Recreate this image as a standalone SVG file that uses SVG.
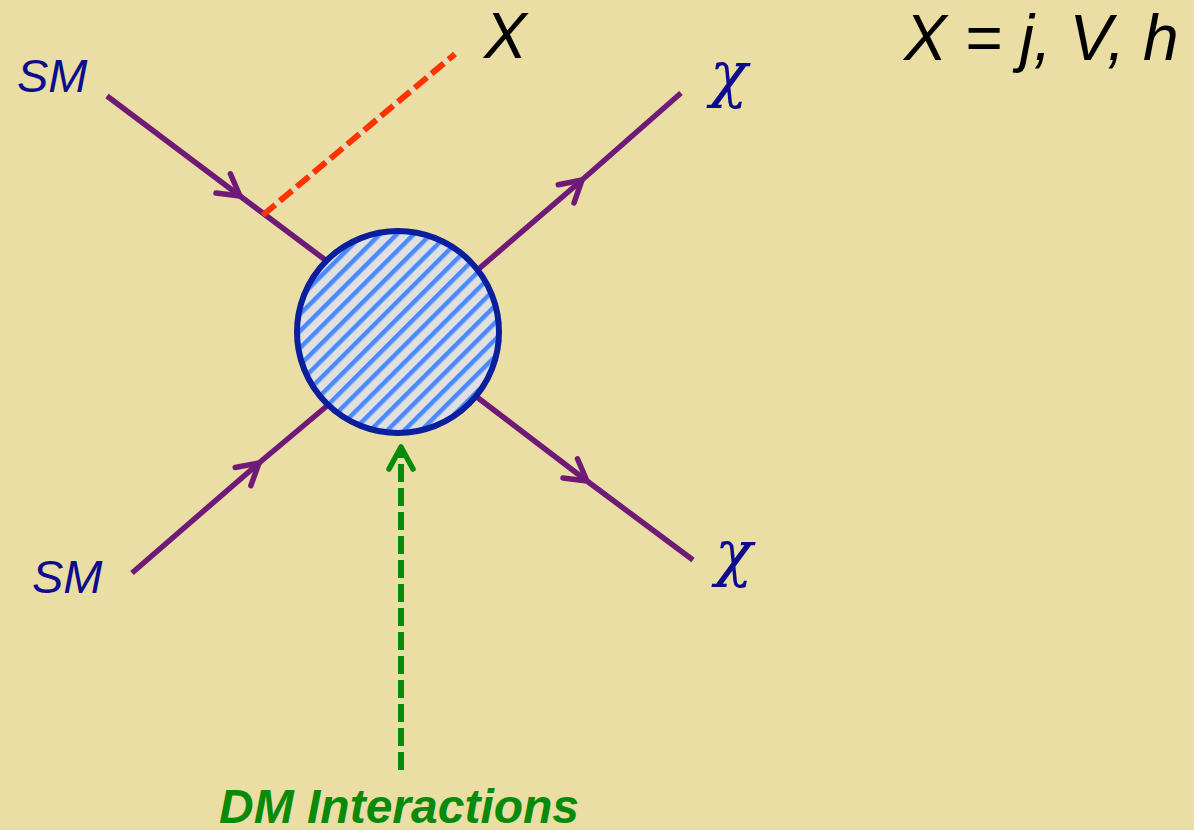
<svg xmlns="http://www.w3.org/2000/svg" width="1194" height="830" viewBox="0 0 1194 830">
<defs>
<style>
.fermion{fill:none;stroke:#701A78;stroke-width:5.5;stroke-linecap:butt;marker-mid:url(#chev)}
.lbl{font-family:"Liberation Sans",Arial,sans-serif;font-style:italic}
.chi{font-family:"DejaVu Serif","Liberation Serif",serif;font-style:italic;fill:#0C0C8C}
</style>
<marker id="chev" markerUnits="userSpaceOnUse" viewBox="-26 -16 30 32" markerWidth="30" markerHeight="32" refX="0" refY="0" orient="auto" overflow="visible">
<path d="M-21,-12 L0,0 L-21,12" fill="none" stroke="#701A78" stroke-width="5.5" stroke-linecap="round" stroke-linejoin="round"/>
</marker>
<marker id="gchev" markerUnits="userSpaceOnUse" viewBox="-26 -16 30 32" markerWidth="30" markerHeight="32" refX="0" refY="0" orient="auto" overflow="visible">
<path d="M-22,-12 L0,0 L-22,12" fill="none" stroke="#0A8A0A" stroke-width="5.5" stroke-linecap="round" stroke-linejoin="round"/>
</marker>
<pattern id="hatch" patternUnits="userSpaceOnUse" width="12" height="12" patternTransform="rotate(-45)">
<rect width="12" height="12" fill="#E0E0E0"/>
<rect width="12" height="4.5" fill="#4A8AFF"/>
</pattern>
</defs>
<rect width="1194" height="830" fill="#EADEA5"/>
<g id="connectors">
<path class="fermion" d="M107,96 L240,196 L340,271"/>
<path class="fermion" d="M467,279 L582,180 L681,93"/>
<path class="fermion" d="M132,573 L259,463 L340,395"/>
<path class="fermion" d="M465,388 L587,481 L693,560"/>
<line x1="263" y1="215" x2="455" y2="54" stroke="#DCDCC8" stroke-width="3"/>
<line x1="263" y1="215" x2="455" y2="54" stroke="#FF3300" stroke-width="6" stroke-dasharray="16 6"/>
<path d="M401,770 L401,447" fill="none" stroke="#0A8A0A" stroke-width="6" stroke-dasharray="18 6" marker-end="url(#gchev)"/>
</g>
<g id="blob">
<circle cx="398" cy="332" r="101" fill="url(#hatch)" stroke="#0A1E9E" stroke-width="6"/>
</g>
<g id="sm-top"><text class="lbl" x="17" y="92" font-size="47" fill="#0C0C8C">SM</text></g>
<g id="sm-bottom"><text class="lbl" x="32" y="593" font-size="47" fill="#0C0C8C">SM</text></g>
<g id="x-label"><text class="lbl" x="484" y="58" font-size="64" fill="#000">X</text></g>
<g id="chi-top"><text class="chi" x="710" y="95" font-size="62">χ</text></g>
<g id="chi-bottom"><text class="chi" x="715" y="574" font-size="62">χ</text></g>
<g id="x-def"><text class="lbl" x="904" y="60" font-size="64" fill="#000">X = j, V, h</text></g>
<g id="dm-label"><text class="lbl" x="219" y="823" font-size="48" font-weight="bold" fill="#0A8A0A">DM Interactions</text></g>
</svg>
